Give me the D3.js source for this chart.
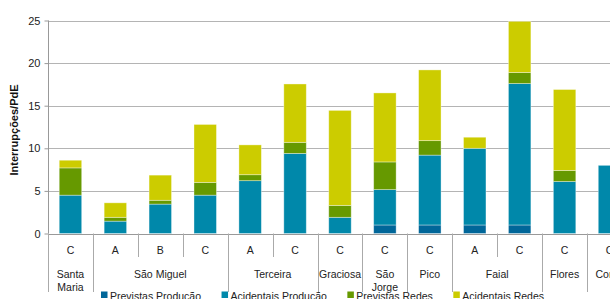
<!DOCTYPE html>
<html lang="pt">
<head>
<meta charset="UTF-8">
<title>Interrupções por PdE</title>
<script src="https://d3js.org/d3.v7.min.js"></script>
<style>
    body { margin: 0; background: #fff; }
    svg { display: block; font-family: "Liberation Sans", Arial, sans-serif; }
    .tick-label { font-size: 10.5px; fill: #222; }
    .grid line { stroke: #b4b4b4; }
</style>
</head>
<body>
<svg id="chart"></svg>
<script>
// categories (island / network type)
const islands = ["Santa Maria", "São Miguel", "Terceira", "Graciosa", "São Jorge", "Pico", "Faial", "Flores", "Corvo"];
const islandSpan = [1, 3, 2, 1, 1, 1, 2, 1, 1];
const types = ["C", "A", "B", "C", "A", "C", "C", "C", "C", "A", "C", "C", "C"];

// series values (interrupções / PdE)
const previstasProducao  = [0, 0, 0, 0, 0, 0, 0, 1.0, 1.0, 1.0, 1.0, 0, 0];
const acidentaisProducao = [4.5, 1.45, 3.45, 4.5, 6.2, 9.4, 1.9, 4.15, 8.2, 9.0, 16.6, 6.1, 8.0];
const previstasRedes     = [3.2, 0.45, 0.45, 1.5, 0.7, 1.3, 1.4, 3.25, 1.7, 0, 1.3, 1.3, 0];
const acidentaisRedes    = [0.9, 1.7, 2.95, 6.8, 3.5, 6.85, 11.15, 8.1, 8.3, 1.3, 6.0, 9.5, 0];

const seriesNames = ["Previstas Producão", "Acidentais Producão", "Previstas Redes", "Acidentais Redes"];
const yTicks = [0, 5, 10, 15, 20, 25];

const colors = ["#006699", "#0088aa", "#669900", "#cccc00"];

const W = 610, H = 299;
const svg = d3.select("#chart").attr("width", W).attr("height", H);

const ids = types.map((t, i) => i);
const rows = ids.map(i => ({
    id: i,
    [seriesNames[0]]: previstasProducao[i],
    [seriesNames[1]]: acidentaisProducao[i],
    [seriesNames[2]]: previstasRedes[i],
    [seriesNames[3]]: acidentaisRedes[i]
}));
const stacked = d3.stack().keys(seriesNames)(rows);

const x = d3.scaleBand().domain(ids).range([48, 48 + 13 * 44.92]).padding(0);
const y = d3.scaleLinear().domain([0, 25]).range([233.5, 20.5]);
const color = d3.scaleOrdinal().domain(seriesNames).range(colors);

// gridlines
svg.append("g")
    .attr("class", "grid")
    .selectAll("line")
    .data(yTicks.filter(d => d > 0))
    .join("line")
    .attr("x1", 48).attr("x2", W)
    .attr("y1", d => Math.round(y(d)) + 0.5)
    .attr("y2", d => Math.round(y(d)) + 0.5);

// bars
const bw = x.bandwidth() * 0.5;
svg.append("g")
    .selectAll("g")
    .data(stacked)
    .join("g")
    .attr("fill", d => color(d.key))
    .selectAll("rect")
    .data(d => d.filter(p => p[1] - p[0] > 0))
    .join("rect")
    .attr("x", d => x(d.data.id) + (x.bandwidth() - bw) / 2)
    .attr("width", bw)
    .attr("y", d => y(d[1]))
    .attr("height", d => y(d[0]) - y(d[1]))
    .attr("stroke", "rgba(255,255,255,0.45)")
    .attr("stroke-width", 0.8);

// y axis
const yAxis = svg.append("g")
    .attr("transform", "translate(48.5,0)")
    .call(d3.axisLeft(y).tickValues(yTicks).tickSize(4).tickPadding(4));
yAxis.select(".domain").attr("stroke", "#999").attr("d", `M0,${y(25)}V${y(0)}`);
yAxis.selectAll(".tick line").attr("stroke", "#999");
yAxis.selectAll(".tick text")
    .attr("class", "tick-label")
    .style("font-size", "11px")
    .attr("font-family", null);

svg.append("text")
    .attr("transform", "translate(18,130) rotate(-90)")
    .attr("text-anchor", "middle")
    .style("font-size", "11px")
    .style("font-weight", "bold")
    .attr("fill", "#111")
    .text("Interrupções/PdE");

// x axis baseline
svg.append("line")
    .attr("x1", 48).attr("x2", W)
    .attr("y1", Math.round(y(0)) + 0.5).attr("y2", Math.round(y(0)) + 0.5)
    .attr("stroke", "#999");

// level 1 labels
svg.append("g")
    .selectAll("text")
    .data(ids)
    .join("text")
    .attr("class", "tick-label")
    .attr("x", i => x(i) + x.bandwidth() / 2)
    .attr("y", 254)
    .attr("text-anchor", "middle")
    .text(i => types[i]);

// separators and group labels
const axisG = svg.append("g");
let start = 0;
const groups = islands.map((name, g) => {
    const o = { name, start, span: islandSpan[g] };
    start += islandSpan[g];
    return o;
});

ids.forEach(i => {
    const isGroupStart = groups.some(g => g.start === i);
    const xx = Math.round(x(i)) + 0.5;
    axisG.append("line")
        .attr("x1", xx).attr("x2", xx)
        .attr("y1", y(0)).attr("y2", isGroupStart ? 292 : 257)
        .attr("stroke", "#aaa");
});

groups.forEach(g => {
    const cx = x(g.start) + (g.span * x.bandwidth()) / 2;
    const t = axisG.append("text")
        .attr("class", "tick-label")
        .attr("x", cx)
        .attr("y", 277.5)
        .attr("text-anchor", "middle")
        .text(g.name);
    if (t.node().getComputedTextLength() > g.span * x.bandwidth() - 4 && g.name.includes(" ")) {
        const parts = g.name.split(" ");
        t.text(null);
        parts.forEach((p, k) => {
            t.append("tspan").attr("x", cx).attr("dy", k === 0 ? 0 : 13.5).text(p);
        });
    }
});

// legend
const legend = svg.append("g");
let lx = 101;
seriesNames.forEach((name, i) => {
    const item = legend.append("g").attr("transform", `translate(${lx},0)`);
    item.append("rect")
        .attr("x", 0).attr("y", 291.5)
        .attr("width", 6.5).attr("height", 6.5)
        .attr("fill", colors[i]);
    const t = item.append("text")
        .attr("class", "tick-label")
        .attr("x", 9)
        .attr("y", 300)
        .text(name);
    lx += 9 + t.node().getComputedTextLength() + 20.5;
});
</script>
</body>
</html>
